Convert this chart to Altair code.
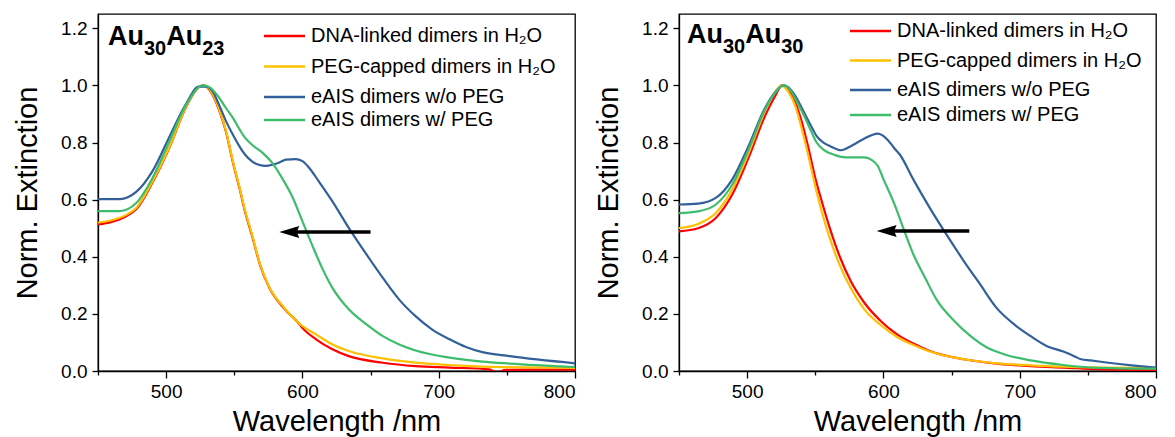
import altair as alt
import pandas as pd

# ---------------- data ----------------
SERIES = ["DNA-linked dimers in H₂O", "PEG-capped dimers in H₂O",
          "eAIS dimers w/o PEG", "eAIS dimers w/ PEG"]
COLORS = ["#ff0000", "#ffc000", "#33609b", "#3dbd6b"]

# Panel 1: Au30Au23
L_WL_RED = [450, 460, 470, 478, 490, 502, 514, 522, 527, 532, 539, 544, 549, 554, 558, 563,
            569, 576, 586, 598, 600, 610, 622, 634, 659, 683, 708, 737, 743, 749, 765, 800]
L_RED = [0.513, 0.522, 0.54, 0.566, 0.66, 0.778, 0.918, 0.984, 1.0, 0.983, 0.912, 0.836, 0.73,
         0.636, 0.556, 0.474, 0.37, 0.289, 0.222, 0.163, 0.151, 0.111, 0.076, 0.052, 0.029,
         0.017, 0.012, 0.006, -0.005, 0.004, 0.005, 0.005]
L_WL_ORA = [450, 460, 470, 478, 490, 502, 514, 522, 527, 532, 539, 544, 549, 554, 558, 563,
            569, 576, 586, 598, 610, 622, 634, 659, 683, 708, 732, 800]
L_ORA = [0.52, 0.528, 0.545, 0.571, 0.664, 0.78, 0.92, 0.985, 1.0, 0.985, 0.915, 0.84, 0.734,
         0.64, 0.56, 0.478, 0.373, 0.291, 0.225, 0.165, 0.128, 0.093, 0.07, 0.044, 0.029,
         0.021, 0.015, 0.011]
L_WL_BLU = [450, 466, 478, 490, 502, 514, 524, 529, 534, 539, 544, 549, 554, 558, 563, 568,
            573, 578, 583, 588, 595, 600, 605, 612, 622, 634, 647, 659, 671, 683, 695, 708,
            720, 732, 752, 800]
L_BLU = [0.602, 0.602, 0.627, 0.70, 0.816, 0.93, 0.996, 0.996, 0.98, 0.93, 0.874, 0.827, 0.785,
         0.757, 0.734, 0.722, 0.718, 0.722, 0.73, 0.74, 0.742, 0.735, 0.711, 0.664, 0.594,
         0.501, 0.408, 0.326, 0.25, 0.192, 0.146, 0.111, 0.084, 0.066, 0.052, 0.027]
L_WL_GRN = [450, 466, 478, 490, 502, 514, 527, 532, 539, 544, 549, 554, 558, 563, 571, 578,
            585, 593, 600, 608, 615, 622, 634, 647, 659, 671, 683, 708, 732, 752, 800]
L_GRN = [0.56, 0.56, 0.588, 0.676, 0.80, 0.926, 1.0, 0.993, 0.956, 0.92, 0.886, 0.845, 0.816,
         0.792, 0.763, 0.728, 0.676, 0.606, 0.524, 0.431, 0.355, 0.291, 0.216, 0.163, 0.122,
         0.093, 0.072, 0.047, 0.033, 0.026, 0.014]

# Panel 2: Au30Au30
R_WL_RED = [450, 464, 477, 489, 501, 513, 521, 525.5, 530, 535, 540, 545, 550, 555, 561, 568,
            576, 586, 598, 610, 622, 634, 659, 683, 708, 732, 760, 800]
R_RED = [0.489, 0.50, 0.536, 0.617, 0.746, 0.892, 0.967, 1.0, 0.985, 0.944, 0.874, 0.78, 0.676,
         0.59, 0.495, 0.40, 0.315, 0.239, 0.175, 0.128, 0.096, 0.07, 0.041, 0.026, 0.017,
         0.012, 0.006, 0.004]
R_WL_ORA = [450, 464, 477, 489, 501, 513, 521, 525, 530, 535, 540, 545, 550, 555, 561, 568,
            576, 586, 598, 610, 622, 634, 659, 683, 708, 732, 760, 800]
R_ORA = [0.50, 0.515, 0.553, 0.635, 0.763, 0.909, 0.979, 1.0, 0.979, 0.932, 0.85, 0.752, 0.647,
         0.553, 0.46, 0.37, 0.291, 0.216, 0.161, 0.119, 0.091, 0.068, 0.041, 0.027, 0.02,
         0.015, 0.012, 0.01]
R_WL_BLU = [450, 464, 477, 489, 501, 513, 521, 527, 532, 537, 542, 547, 551, 556, 561, 569,
            576, 583, 591, 596, 599, 603, 608, 612, 622, 634, 647, 659, 671, 683, 696, 708,
            720, 732, 740, 745, 752, 765, 782, 800]
R_BLU = [0.583, 0.586, 0.606, 0.67, 0.787, 0.92, 0.979, 1.0, 0.985, 0.95, 0.903, 0.857, 0.822,
         0.80, 0.787, 0.773, 0.787, 0.806, 0.825, 0.831, 0.826, 0.81, 0.78, 0.758, 0.67,
         0.571, 0.472, 0.385, 0.303, 0.221, 0.163, 0.122, 0.087, 0.068, 0.052, 0.041, 0.037,
         0.029, 0.02, 0.012]
R_WL_GRN = [450, 464, 477, 489, 501, 513, 521, 527, 532, 537, 542, 547, 551, 556, 561, 569,
            576, 586, 591, 596, 600, 608, 615, 622, 630, 639, 652, 664, 676, 689, 708, 732,
            753, 800]
R_GRN = [0.553, 0.559, 0.583, 0.652, 0.775, 0.915, 0.977, 1.0, 0.981, 0.938, 0.892, 0.839,
         0.80, 0.775, 0.762, 0.75, 0.748, 0.748, 0.74, 0.717, 0.672, 0.585, 0.495, 0.408,
         0.332, 0.25, 0.175, 0.122, 0.082, 0.058, 0.037, 0.021, 0.012, 0.008]

# arrows (wavelength start -> tip, level)
ARROW_START = [650, 663]
ARROW_TIP = [583, 595]
ARROW_Y = [0.487, 0.49]

TITLE_MAIN = ["Au", "Au"]
TITLE_SUB1 = ["30", "30"]
TITLE_SUB2 = ["23", "30"]

# ---------------- layout constants ----------------
W, H = 477, 357
FONT = "Liberation Sans"
X_VALUES = [450, 500, 550, 600, 650, 700, 750, 800]
Y_VALUES = [round(0.1 * i, 1) for i in range(13)]


def panel(idx, wls, vals, legend_x, legend_rows, title_x, title_base):
    xs = alt.X("wl:Q", scale=alt.Scale(domain=[450, 800], nice=False, zero=False),
               axis=alt.Axis(values=X_VALUES, title="Wavelength /nm",
                             labelExpr="datum.value % 100 == 0 ? datum.label : ''",
                             tickSize={"condition": {"test": "datum.value % 100 == 0", "value": 7},
                                       "value": 4},
                             labelPadding=4, titlePadding=6))
    ys = alt.Y("v:Q", scale=alt.Scale(domain=[0, 1.25], nice=False),
               axis=alt.Axis(values=Y_VALUES, title="Norm. Extinction",
                             labelExpr="round(datum.value*10) % 2 == 0 ? format(datum.value, '.1f') : ''",
                             tickSize={"condition": {"test": "round(datum.value*10) % 2 == 0", "value": 6},
                                       "value": 3},
                             labelPadding=5, titlePadding=18))
    layers = []
    for k in range(4):
        df = pd.DataFrame({"wl": wls[k], "v": vals[k]})
        layers.append(alt.Chart(df).mark_line(color=COLORS[k], strokeWidth=2.2, clip=True,
                                              interpolate="monotone").encode(x=xs, y=ys))
    adf = pd.DataFrame({"wl": [ARROW_START[idx]], "wl2": [ARROW_TIP[idx] + 8], "v": [ARROW_Y[idx]],
                        "tip": [ARROW_TIP[idx]]})
    layers.append(alt.Chart(adf).mark_rule(color="black", strokeWidth=3.5).encode(
        x=alt.X("wl:Q"), x2="wl2:Q", y=alt.Y("v:Q")))
    layers.append(alt.Chart(adf).mark_point(shape="M 0 0 L 2 -0.6 L 1.75 0 L 2 0.6 Z", size=400,
                                            filled=True, color="black", opacity=1).encode(
        x=alt.X("tip:Q"), y=alt.Y("v:Q")))
    # legend
    ldf = pd.DataFrame({"s": SERIES, "ly": legend_rows})
    cscale = alt.Scale(domain=SERIES, range=COLORS)
    layers.append(alt.Chart(ldf).mark_rule(strokeWidth=2.5).encode(
        x=alt.value(legend_x), x2=alt.value(legend_x + 41), y=alt.Y("ly:Q", scale=None),
        color=alt.Color("s:N", scale=cscale, legend=None)))
    layers.append(alt.Chart(ldf).mark_text(align="left", baseline="middle", font=FONT,
                                           fontSize=20, color="black").encode(
        x=alt.value(legend_x + 47), y=alt.Y("ly:Q", scale=None), text="s:N"))
    # title with subscripts
    big, small = 27, 20
    wbig, wsmall = 1.333 * big, 1.112 * small
    pieces = [(TITLE_MAIN[idx], big, 0, 0), (TITLE_SUB1[idx], small, wbig, 10),
              (TITLE_MAIN[idx], big, wbig + wsmall, 0), (TITLE_SUB2[idx], small, 2 * wbig + wsmall, 10)]
    for txt, fs, dx, dy in pieces:
        layers.append(alt.Chart(pd.DataFrame({"t": [txt]})).mark_text(
            align="left", baseline="alphabetic", font=FONT, fontWeight="bold", fontSize=fs,
            color="black").encode(x=alt.value(title_x + dx), y=alt.value(title_base + dy), text="t:N"))
    return alt.layer(*layers).properties(width=W, height=H)


p1 = panel(0, [L_WL_RED, L_WL_ORA, L_WL_BLU, L_WL_GRN], [L_RED, L_ORA, L_BLU, L_GRN],
           166, [22, 52.5, 83, 106], 10, 31)
p2 = panel(1, [R_WL_RED, R_WL_ORA, R_WL_BLU, R_WL_GRN], [R_RED, R_ORA, R_BLU, R_GRN],
           171, [17, 46.5, 76, 101], 8, 29)

chart = alt.hconcat(p1, p2, spacing=16).properties(
    padding={"left": 12, "top": 13, "right": 5, "bottom": 5}
).configure(background="white").configure_view(
    stroke="black", strokeWidth=1.3
).configure_axis(
    labelFont=FONT, titleFont=FONT, labelFontSize=19, titleFontSize=29,
    titleFontWeight="normal", labelColor="black", titleColor="black",
    domainColor="black", tickColor="black", domainWidth=1.3, tickWidth=1.3, grid=False
)

chart.save("out.html", embed_options={"renderer": "svg", "actions": False})
